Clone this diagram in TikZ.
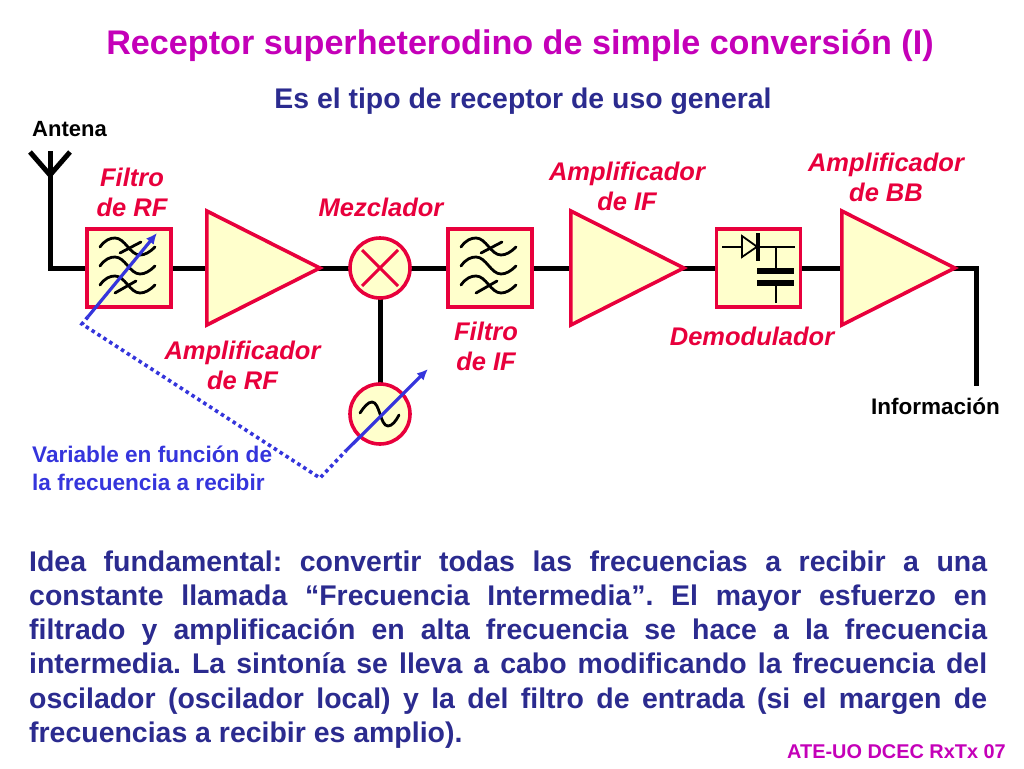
\documentclass[tikz,border=0pt]{standalone}
\usepackage{fontspec}
\setmainfont{Liberation Sans}
\usetikzlibrary{shapes.geometric,arrows.meta,backgrounds}
\definecolor{cred}{HTML}{E8003C}
\definecolor{ctitle}{HTML}{C400B8}
\definecolor{cnavy}{HTML}{2B2B8F}
\definecolor{cblue}{HTML}{3535DC}
\definecolor{cfill}{HTML}{FFFFCC}
\newcommand{\fs}[2]{\fontsize{#1}{#2}\selectfont}
\tikzset{
  x=1pt,y=-1pt,
  block/.style={draw=cred,fill=cfill,line width=3.6pt,minimum width=84pt,minimum height=78pt,inner sep=0pt,rectangle},
  round/.style={draw=cred,fill=cfill,line width=3.6pt,circle,minimum size=60pt,inner sep=0pt},
  amp/.style={draw=cred,fill=cfill,line width=3.6pt,isosceles triangle,isosceles triangle stretches,minimum width=114pt,minimum height=113pt,inner sep=0pt,anchor=lower side},
  wire/.style={draw=black,line width=5pt},
  sym/.style={draw=black,line width=2.8pt,line cap=round},
  symthin/.style={draw=black,line width=1.8pt},
  tune/.style={draw=cblue,line width=3.2pt,-{Latex[length=11pt,width=10pt]}},
  tunedot/.style={draw=cblue,line width=3.6pt,dash pattern=on 3.5pt off 3.5pt},
  lab/.style={text=cred,font=\bfseries\itshape\fs{25.5}{30},align=center,inner sep=0pt},
  blk/.style={text=black,font=\bfseries\fs{22}{26},inner sep=0pt},
  bluetxt/.style={text=cnavy,inner sep=0pt},
  filtersym/.pic={
    \foreach \dy in {0,19,38}{
      \draw[sym] (-29,-21+\dy) .. controls (-24,-28+\dy) and (-19,-30+\dy) .. (-14,-30+\dy)
        .. controls (-4,-30+\dy) and (1,-13+\dy) .. (11,-13+\dy)
        .. controls (16,-13+\dy) and (21,-16+\dy) .. (26,-21+\dy);
    }
    \draw[sym] (-9,-15) -- (12,-26);
    \draw[sym] (-14,25) -- (7,13);
  }
}
\begin{document}
\frenchspacing
\begin{tikzpicture}
\useasboundingbox (0,0) rectangle (1024,768);
% titles
\node[text=ctitle,font=\bfseries\fs{34.15}{38},inner sep=0pt] (title) at (520,46) {Receptor superheterodino de simple conversión (I)};
\node[text=cnavy,font=\bfseries\fs{28.4}{32},inner sep=0pt] (subtitle) at (523,101) {Es el tipo de receptor de uso general};
% blocks
\node[block] (frf) at (129,268) {};
\node[amp] (arf) at (205,268) {};
\node[round] (mix) at (380,268) {};
\node[block] (fif) at (490,268) {};
\node[amp] (aif) at (569,268) {};
\node[block] (dem) at (758.5,268) {};
\node[amp] (abb) at (840,268) {};
\node[round] (osc) at (380,414) {};
% named free ends
\coordinate (anttop) at (50,151);
\coordinate (antbase) at (50,175);
\coordinate (antl) at (30,152);
\coordinate (antr) at (70,152);
\coordinate (antcorner) at (50,268);
\coordinate (outcorner) at (976,268);
\coordinate (outend) at (976,386);
% wires, behind the blocks
\begin{scope}[on background layer]
\draw[wire] (anttop) -- (antbase);
\draw[wire,line join=miter] (antbase) -- (antcorner) -- (frf.center);
\draw[wire,line join=miter] (antl) -- (antbase) -- (antr);
\draw[wire] (frf.center) -- (arf.center);
\draw[wire] (arf.center) -- (mix.center);
\draw[wire] (mix.center) -- (fif.center);
\draw[wire] (fif.center) -- (aif.center);
\draw[wire] (aif.center) -- (dem.center);
\draw[wire] (dem.center) -- (abb.center);
\draw[wire,line join=miter] (abb.center) -- (outcorner) -- (outend);
\draw[wire] (mix.center) -- (osc.center);
\end{scope}
% filter symbols
\pic at (frf.center) {filtersym};
\pic at (fif.center) {filtersym};
% mixer cross
\draw[draw=cred,line width=3pt] (362,250) -- (398,286);
\draw[draw=cred,line width=3pt] (398,250) -- (362,286);
% oscillator sine
\draw[sym] (360,413) .. controls (364,407) and (368,402) .. (372,402)
  .. controls (380,402) and (380,426) .. (388,426)
  .. controls (392,426) and (396,421) .. (399,415);
% demodulator
\draw[symthin] (722,246.7) -- (742,246.7);
\draw[symthin,line join=miter] (742,236) -- (742,257) -- (757,246.7) -- cycle;
\draw[draw=black,line width=3.6pt] (758,233) -- (758,261);
\draw[symthin] (758,246.7) -- (795,246.7);
\draw[symthin] (776,246.7) -- (776,271);
\draw[draw=black,line width=6pt] (757,270.7) -- (794,270.7);
\draw[draw=black,line width=6pt] (757,282.7) -- (794,282.7);
\draw[symthin] (776,283) -- (776,303);
% tuning
\coordinate (t1s) at (88,316.7);
\coordinate (t1e) at (157,233);
\coordinate (t2s) at (346,450.7);
\coordinate (t2e) at (428,369);
\coordinate (dotc) at (82,324);
\coordinate (dotb) at (320,478);
\draw[tune] (t1s) -- (t1e);
\draw[tune] (t2s) -- (t2e);
\draw[tunedot] (t1s) -- (dotc) -- (dotb) -- (t2s);
% labels
\node[blk] (lant) at (69.5,129) {Antena};
\node[blk,font=\bfseries\fs{22.5}{26}] (linf) at (935.5,406) {Información};
\node[lab] (lfrf) at (132,192.5) {Filtro\\de RF};
\node[lab] (lmez) at (381,207.5) {Mezclador};
\node[lab] (laif) at (627,186.5) {Amplificador\\de IF};
\node[lab] (labb) at (886,177.5) {Amplificador\\de BB};
\node[lab] (larf) at (242.5,365.5) {Amplificador\\de RF};
\node[lab] (lfif) at (486,346) {Filtro\\de IF};
\node[lab] (ldem) at (752,336) {Demodulador};
\node[text=cblue,font=\bfseries\fs{22.6}{28},align=left,inner sep=0pt,anchor=west] (lvar) at (32,468.5) {Variable en función de\\la frecuencia a recibir};
% body
\node[bluetxt,font=\bfseries\fs{28.45}{34.2},text width=958pt,align=justify,anchor=north west] (body) at (29,550.5) {Idea fundamental: convertir todas las frecuencias a recibir a una\linebreak constante llamada “Frecuencia Intermedia”. El mayor esfuerzo en\linebreak filtrado y amplificación en alta frecuencia se hace a la frecuencia\linebreak intermedia. La sintonía se lleva a cabo modificando la frecuencia del\linebreak oscilador (oscilador local) y la del filtro de entrada (si el margen de\linebreak frecuencias a recibir es amplio).};
\node[text=ctitle,font=\bfseries\fs{19.9}{24},inner sep=0pt,anchor=east] (foot) at (1006,752) {ATE-UO DCEC RxTx 07};
\end{tikzpicture}
\end{document}
